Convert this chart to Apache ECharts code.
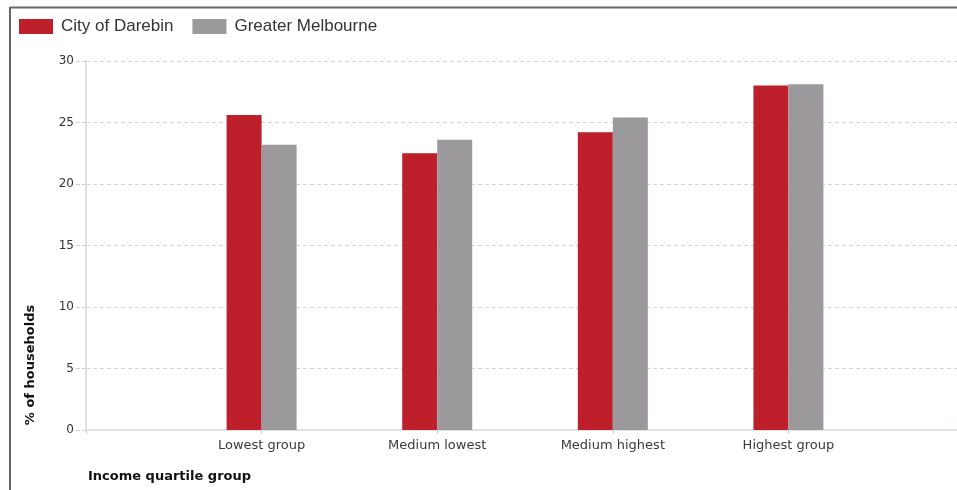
<!DOCTYPE html>
<html>
<head>
<meta charset="utf-8">
<script src="https://cdn.jsdelivr.net/npm/echarts@6/dist/echarts.min.js"></script>
<style>
  html, body { margin: 0; padding: 0; background: #fff; }
  #chart { width: 957px; height: 490px; }
</style>
</head>
<body>
<div id="chart"></div>
<script>
// Share of households by income quartile group
const categories = ['Lowest group', 'Medium lowest', 'Medium highest', 'Highest group'];
const darebin = [25.6, 22.5, 24.2, 28.0];
const melbourne = [23.2, 23.6, 25.4, 28.1];
const yTicks = [0, 5, 10, 15, 20, 25, 30];

const RED = '#bd1f2b';
const GREY = '#9b999c';
const SANS = '"Liberation Sans", Arial, sans-serif';
const WIDE = '"DejaVu Sans", Verdana, sans-serif';

// Categories sit at positions 1..n on a numeric x axis
const toPoints = vals => vals.map((v, i) => [i + 1, v]);

const chart = echarts.init(document.getElementById('chart'));
chart.setOption({
  animation: false,
  backgroundColor: '#fff',
  legend: {
    left: 14, top: 13,
    itemWidth: 34, itemHeight: 15, itemGap: 19,
    icon: 'rect',
    textStyle: { fontSize: 17, color: '#333', fontFamily: SANS, padding: [0, 0, 0, 3] },
    data: ['City of Darebin', 'Greater Melbourne']
  },
  grid: { left: 86, right: 0, top: 61, bottom: 60, containLabel: false },
  xAxis: {
    type: 'value',
    min: 0, max: 4.96, interval: 1,
    splitLine: { show: false },
    axisLine: { show: true, lineStyle: { color: '#dde3e1', width: 2 } },
    axisTick: { show: true, length: 4, lineStyle: { color: '#c8cfcd' } },
    axisLabel: {
      margin: 9, fontSize: 13, color: '#3a3a3a', fontFamily: WIDE,
      showMaxLabel: false,
      formatter: v => (v >= 1 && v <= categories.length && Number.isInteger(v)) ? categories[v - 1] : ''
    }
  },
  yAxis: {
    type: 'value',
    min: yTicks[0], max: yTicks[yTicks.length - 1], interval: 5,
    axisLine: { show: true, lineStyle: { color: '#dde3e1', width: 2 } },
    axisTick: { show: true, length: 10, lineStyle: { color: '#cfcfcf', type: 'dashed' } },
    axisLabel: { margin: 12, fontSize: 12, color: '#333', fontFamily: WIDE },
    splitLine: { show: true, lineStyle: { color: '#d4d4d4', type: [4, 3] } }
  },
  series: [
    {
      name: 'City of Darebin', type: 'bar',
      data: toPoints(darebin),
      barWidth: 35, barGap: '0%',
      itemStyle: { color: RED }
    },
    {
      name: 'Greater Melbourne', type: 'bar',
      data: toPoints(melbourne),
      barWidth: 35, barGap: '0%',
      itemStyle: { color: GREY }
    }
  ],
  graphic: [
    // outer frame (left and top edges)
    { type: 'line', shape: { x1: 10, y1: 7.5, x2: 957, y2: 7.5 }, style: { stroke: '#666', lineWidth: 2 } },
    { type: 'line', shape: { x1: 10, y1: 7, x2: 10, y2: 490 }, style: { stroke: '#666', lineWidth: 2 } },
    // axis titles
    {
      type: 'text', x: 31, y: 365, rotation: Math.PI / 2,
      style: {
        text: '% of households', fill: '#111', font: 'bold 13px ' + WIDE,
        align: 'center', verticalAlign: 'middle'
      }
    },
    {
      type: 'text', x: 88, y: 477,
      style: {
        text: 'Income quartile group', fill: '#111', font: 'bold 13px ' + WIDE,
        align: 'left', verticalAlign: 'middle'
      }
    }
  ]
});
</script>
</body>
</html>
